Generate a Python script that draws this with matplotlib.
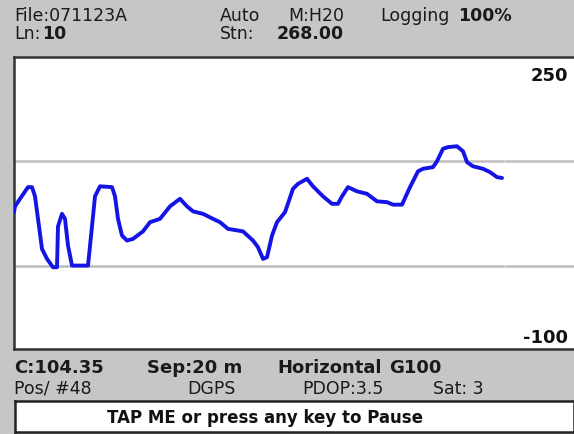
import numpy as np
import matplotlib.pyplot as plt

# profile trace (distance along line, reading)
dist = [0, 1, 6, 14, 18, 21, 24, 28, 33, 39, 43, 44, 48, 51, 54, 58, 74, 78, 81, 86,
        98, 101, 104, 108, 113, 119, 129, 136, 146, 156, 166, 173, 179, 189, 199, 206,
        214, 229, 239, 244, 249, 253, 258, 263, 271, 279, 284, 293, 299, 309, 318, 324,
        328, 334, 343, 353, 363, 373, 379, 388, 396, 404, 409, 419, 423, 429, 434, 443,
        449, 453, 459, 469, 476, 483, 488]
reading = [64, 71, 80, 94, 94, 83, 56, 20, 8, -2, -2, 47, 62, 56, 24, 0, 0, 47, 83, 95,
           94, 83, 56, 36, 30, 32, 41, 52, 56, 71, 80, 71, 65, 62, 56, 52,
           44, 41, 30, 22, 8, 10, 36, 52, 64, 92, 98, 104, 95, 83, 74, 74,
           83, 94, 89, 86, 77, 76, 73, 73, 94, 113, 116, 118, 125, 140, 142, 143,
           137, 124, 119, 116, 112, 106, 105]
y_top, y_bottom = 250, -100
grid_levels = [125, 0]

header = [("File:071123A", 14, 21, "normal"), ("Auto", 220, 21, "normal"),
          ("M:H20", 288, 21, "normal"), ("Logging", 380, 21, "normal"),
          ("100%", 458, 21, "bold"), ("Ln:", 14, 39, "normal"), ("10", 42, 39, "bold"),
          ("Stn:", 220, 39, "normal"), ("268.00", 277, 39, "bold")]
footer = [("C:104.35", 14, 373, "bold"), ("Sep:20 m", 147, 373, "bold"),
          ("Horizontal", 277, 373, "bold"), ("G100", 389, 373, "bold"),
          ("Pos/ #48", 14, 394, "normal"), ("DGPS", 187, 394, "normal"),
          ("PDOP:3.5", 302, 394, "normal"), ("Sat: 3", 433, 394, "normal")]

W, H = 574, 435
fig = plt.figure(figsize=(W / 100, H / 100), dpi=100, facecolor="#c6c6c6")

ax = fig.add_axes([14 / W, (H - 350) / H, (W - 14) / W, (350 - 58) / H])
ax.set_facecolor("white")
for lv in grid_levels:
    ax.plot([0, 489], [lv, lv], color="#bdbdbd", lw=1.8, zorder=1)
    ax.plot([492, 560], [lv, lv], color="#bdbdbd", lw=1.8, zorder=1)
ax.plot(dist, reading, color="#1414e6", lw=2.8, zorder=3,
        solid_joinstyle="round", solid_capstyle="round")
ax.set_xlim(0, 560)
ax.set_ylim(y_bottom, y_top)
ax.set_xticks([])
ax.set_yticks([])
for s in ["left", "top", "bottom"]:
    ax.spines[s].set_color("#333333")
    ax.spines[s].set_linewidth(1.8)
ax.spines["right"].set_visible(False)
ax.text(0.99, 0.97, str(y_top), transform=ax.transAxes, ha="right", va="top",
        fontsize=13, fontweight="bold", color="#111111")
ax.text(0.99, 0.01, str(y_bottom), transform=ax.transAxes, ha="right", va="bottom",
        fontsize=13, fontweight="bold", color="#111111")

def px_text(s, x, y, weight, size=12.5):
    fig.text(x / W, 1 - y / H, s, ha="left", va="baseline", fontsize=size,
             fontweight=weight, color="#1a1a1a")

for s, x, y, w in header:
    px_text(s, x, y, w, 12.5)
for s, x, y, w in footer:
    px_text(s, x, y, w, 13 if w == "bold" else 12.5)

# pause button
btn = fig.add_axes([15 / W, (H - 433) / H, (W - 15) / W, (433 - 402) / H])
btn.set_facecolor("white")
btn.set_xticks([])
btn.set_yticks([])
for s in btn.spines.values():
    s.set_color("#222222")
    s.set_linewidth(1.8)
btn.text(0.448, 0.48, "TAP ME or press any key to Pause", transform=btn.transAxes,
         ha="center", va="center", fontsize=12, fontweight="bold", color="#111111")

fig.savefig("out.png", dpi=100, facecolor=fig.get_facecolor())
